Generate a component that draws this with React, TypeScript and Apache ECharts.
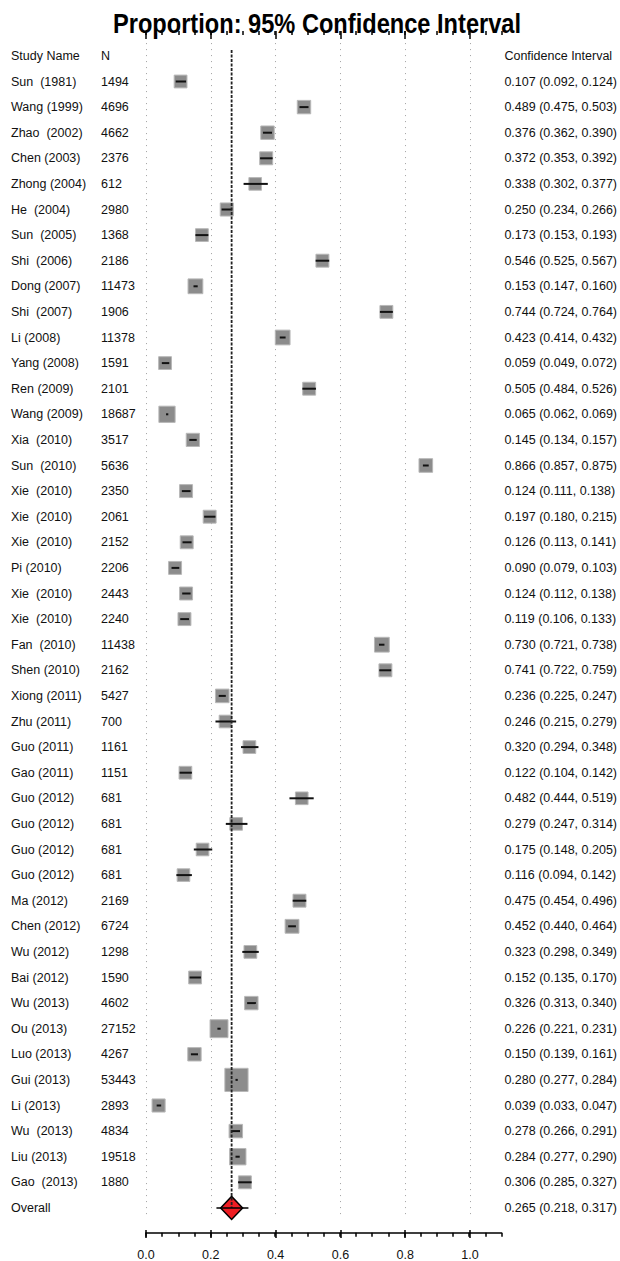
import React, { useEffect, useRef } from "react";
import * as echarts from "echarts";

const studyNames = [
  "Sun  (1981)", "Wang (1999)", "Zhao  (2002)", "Chen (2003)", "Zhong (2004)", "He  (2004)",
  "Sun  (2005)", "Shi  (2006)", "Dong (2007)", "Shi  (2007)", "Li (2008)", "Yang (2008)",
  "Ren (2009)", "Wang (2009)", "Xia  (2010)", "Sun  (2010)", "Xie  (2010)", "Xie  (2010)",
  "Xie  (2010)", "Pi (2010)", "Xie  (2010)", "Xie  (2010)", "Fan  (2010)", "Shen (2010)",
  "Xiong (2011)", "Zhu (2011)", "Guo (2011)", "Gao (2011)", "Guo (2012)", "Guo (2012)",
  "Guo (2012)", "Guo (2012)", "Ma (2012)", "Chen (2012)", "Wu (2012)", "Bai (2012)",
  "Wu (2013)", "Ou (2013)", "Luo (2013)", "Gui (2013)", "Li (2013)", "Wu  (2013)",
  "Liu (2013)", "Gao  (2013)",
];
const sampleSizes = [
  1494, 4696, 4662, 2376, 612, 2980, 1368, 2186, 11473, 1906, 11378, 1591, 2101, 18687, 3517,
  5636, 2350, 2061, 2152, 2206, 2443, 2240, 11438, 2162, 5427, 700, 1161, 1151, 681, 681, 681,
  681, 2169, 6724, 1298, 1590, 4602, 27152, 4267, 53443, 2893, 4834, 19518, 1880,
];
const estimates = [
  0.107, 0.489, 0.376, 0.372, 0.338, 0.25, 0.173, 0.546, 0.153, 0.744, 0.423, 0.059, 0.505,
  0.065, 0.145, 0.866, 0.124, 0.197, 0.126, 0.09, 0.124, 0.119, 0.73, 0.741, 0.236, 0.246,
  0.32, 0.122, 0.482, 0.279, 0.175, 0.116, 0.475, 0.452, 0.323, 0.152, 0.326, 0.226, 0.15,
  0.28, 0.039, 0.278, 0.284, 0.306,
];
const lowers = [
  0.092, 0.475, 0.362, 0.353, 0.302, 0.234, 0.153, 0.525, 0.147, 0.724, 0.414, 0.049, 0.484,
  0.062, 0.134, 0.857, 0.111, 0.18, 0.113, 0.079, 0.112, 0.106, 0.721, 0.722, 0.225, 0.215,
  0.294, 0.104, 0.444, 0.247, 0.148, 0.094, 0.454, 0.44, 0.298, 0.135, 0.313, 0.221, 0.139,
  0.277, 0.033, 0.266, 0.277, 0.285,
];
const uppers = [
  0.124, 0.503, 0.39, 0.392, 0.377, 0.266, 0.193, 0.567, 0.16, 0.764, 0.432, 0.072, 0.526,
  0.069, 0.157, 0.875, 0.138, 0.215, 0.141, 0.103, 0.138, 0.133, 0.738, 0.759, 0.247, 0.279,
  0.348, 0.142, 0.519, 0.314, 0.205, 0.142, 0.496, 0.464, 0.349, 0.17, 0.34, 0.231, 0.161,
  0.284, 0.047, 0.291, 0.29, 0.327,
];
const overallEstimate = 0.265;
const overallLower = 0.218;
const overallUpper = 0.317;
const axisTickLabels = ["0.0", "0.2", "0.4", "0.6", "0.8", "1.0"];

const FONT = "'Liberation Sans', Arial, sans-serif";
const TEXT = "#111";

export default function App() {
  const ref = useRef<HTMLDivElement>(null);

  useEffect(() => {
    if (!ref.current) return;
    const chart = echarts.init(ref.current, undefined, { renderer: "svg" });

    const fmt = (v: number) => v.toFixed(3);
    const nameCol = ["Study Name", ...studyNames, "Overall"];
    const nCol = ["N", ...sampleSizes.map(String), ""];
    const ciCol = [
      "Confidence Interval",
      ...estimates.map((e, i) => `${fmt(e)} (${fmt(lowers[i])}, ${fmt(uppers[i])})`),
      `${fmt(overallEstimate)} (${fmt(overallLower)}, ${fmt(overallUpper)})`,
    ];
    const rowIds = nameCol.map((_, i) => String(i));
    const lastRow = nameCol.length - 1;

    const studyData = estimates.map((e, i) => [i + 1, e, lowers[i], uppers[i], sampleSizes[i]]);

    const gridTop = 43.1;
    const gridHeight = 25.6 * nameCol.length;

    const labelBase = { fontSize: 12.5, fontFamily: FONT, color: TEXT, interval: 0 };
    const tickStyle = { color: "#000", width: 1.5 };

    const option: any = {
      animation: false,
      backgroundColor: "#fff",
      graphic: [
        {
          type: "text",
          x: 317,
          y: 23,
          scaleX: 0.875,
          style: {
            text: "Proportion: 95% Confidence Interval",
            fontSize: 27,
            fontWeight: "bold",
            fontFamily: FONT,
            fill: "#000",
            align: "center",
            textAlign: "center",
            verticalAlign: "middle",
            textVerticalAlign: "middle",
          },
        },
      ],
      grid: [
        { left: 146, width: 356, top: gridTop, height: gridHeight },
        { left: 146, width: 324, top: gridTop, height: gridHeight },
      ],
      xAxis: [
        {
          gridIndex: 0, type: "value", min: 0, max: 1.1, interval: 0.05, offset: 12,
          axisLine: { show: true, lineStyle: tickStyle },
          axisTick: { show: true, length: 4, lineStyle: tickStyle },
          axisLabel: { show: false }, splitLine: { show: false },
        },
        {
          gridIndex: 0, type: "value", min: 0, max: 1.1, interval: 0.05, offset: 12,
          axisLine: { show: false },
          axisTick: { show: true, inside: true, length: 4, lineStyle: tickStyle },
          axisLabel: { show: false }, splitLine: { show: false },
        },
        {
          gridIndex: 1, type: "value", min: 0, max: 1.0, interval: 0.2, offset: 12,
          axisLine: { show: false },
          axisTick: { show: true, length: 8, lineStyle: tickStyle },
          axisLabel: {
            show: true, margin: 18, fontSize: 12.5, fontFamily: FONT, color: TEXT,
            formatter: (v: number) => axisTickLabels[Math.round(v / 0.2)] ?? "",
          },
          splitLine: { show: true, lineStyle: { color: "#a0a0a0", width: 1, type: [1, 5] } },
        },
        {
          gridIndex: 1, type: "value", min: 0, max: 1.0, interval: 0.2, offset: 12,
          axisLine: { show: false },
          axisTick: { show: true, inside: true, length: 8, lineStyle: tickStyle },
          axisLabel: { show: false }, splitLine: { show: false },
        },
      ],
      yAxis: [
        {
          gridIndex: 0, type: "category", data: rowIds, inverse: true, position: "left",
          axisLine: { show: false }, axisTick: { show: false }, splitLine: { show: false },
          axisLabel: { ...labelBase, align: "left", margin: 135, formatter: (_: string, i: number) => nameCol[i] },
        },
        {
          gridIndex: 0, type: "category", data: rowIds, inverse: true, position: "left",
          axisLine: { show: false }, axisTick: { show: false }, splitLine: { show: false },
          axisLabel: { ...labelBase, align: "left", margin: 45, formatter: (_: string, i: number) => nCol[i] },
        },
        {
          gridIndex: 0, type: "category", data: rowIds, inverse: true, position: "right",
          axisLine: { show: false }, axisTick: { show: false }, splitLine: { show: false },
          axisLabel: { ...labelBase, align: "left", margin: 3, formatter: (_: string, i: number) => ciCol[i] },
        },
        { gridIndex: 1, type: "category", data: rowIds, inverse: true, show: false },
      ],
      series: [
        {
          type: "custom",
          xAxisIndex: 0,
          yAxisIndex: 0,
          z: 2,
          encode: { x: [1, 2, 3], y: 0 },
          data: studyData,
          renderItem: (params: any, api: any) => {
            const row = api.value(0);
            const c = api.coord([api.value(1), row]);
            const lo = api.coord([api.value(2), row]);
            const hi = api.coord([api.value(3), row]);
            const s = 12.5 + api.value(4) / 5000;
            return {
              type: "group",
              children: [
                {
                  type: "rect",
                  shape: { x: c[0] - s / 2, y: c[1] - s / 2, width: s, height: s },
                  style: { fill: "#8c8c8c", stroke: "#b8b8b8", lineWidth: 1 },
                },
                {
                  type: "line",
                  shape: { x1: lo[0], y1: c[1], x2: hi[0], y2: c[1] },
                  style: { stroke: "#111", lineWidth: 2 },
                },
              ],
            };
          },
        },
        {
          type: "custom",
          xAxisIndex: 0,
          yAxisIndex: 0,
          z: 5,
          encode: { x: [1, 2, 3], y: 0 },
          data: [[lastRow, overallEstimate, overallLower, overallUpper]],
          renderItem: (params: any, api: any) => {
            const row = api.value(0);
            const c = api.coord([api.value(1), row]);
            const top = api.coord([api.value(1), 0]);
            const lo = api.coord([api.value(2), row]);
            const hi = api.coord([api.value(3), row]);
            const hw = 11;
            const hh = 11.5;
            return {
              type: "group",
              children: [
                {
                  type: "polygon",
                  shape: {
                    points: [
                      [c[0] - hw, c[1]],
                      [c[0], c[1] - hh],
                      [c[0] + hw, c[1]],
                      [c[0], c[1] + hh],
                    ],
                  },
                  style: { fill: "#ee1d23", stroke: "#000", lineWidth: 1.5 },
                },
                {
                  type: "line",
                  shape: { x1: c[0], y1: top[1] - 6, x2: c[0], y2: c[1] },
                  style: { stroke: "#222", lineWidth: 1.8, lineDash: [3, 1.5] },
                },
                {
                  type: "line",
                  shape: { x1: lo[0], y1: c[1], x2: hi[0], y2: c[1] },
                  style: { stroke: "#000", lineWidth: 1.5 },
                },
              ],
            };
          },
        },
      ],
    };

    chart.setOption(option);
    return () => chart.dispose();
  }, []);

  return (
    <div
      ref={ref}
      style={{ position: "absolute", left: 0, top: 0, width: 620, height: 1261 }}
    />
  );
}
